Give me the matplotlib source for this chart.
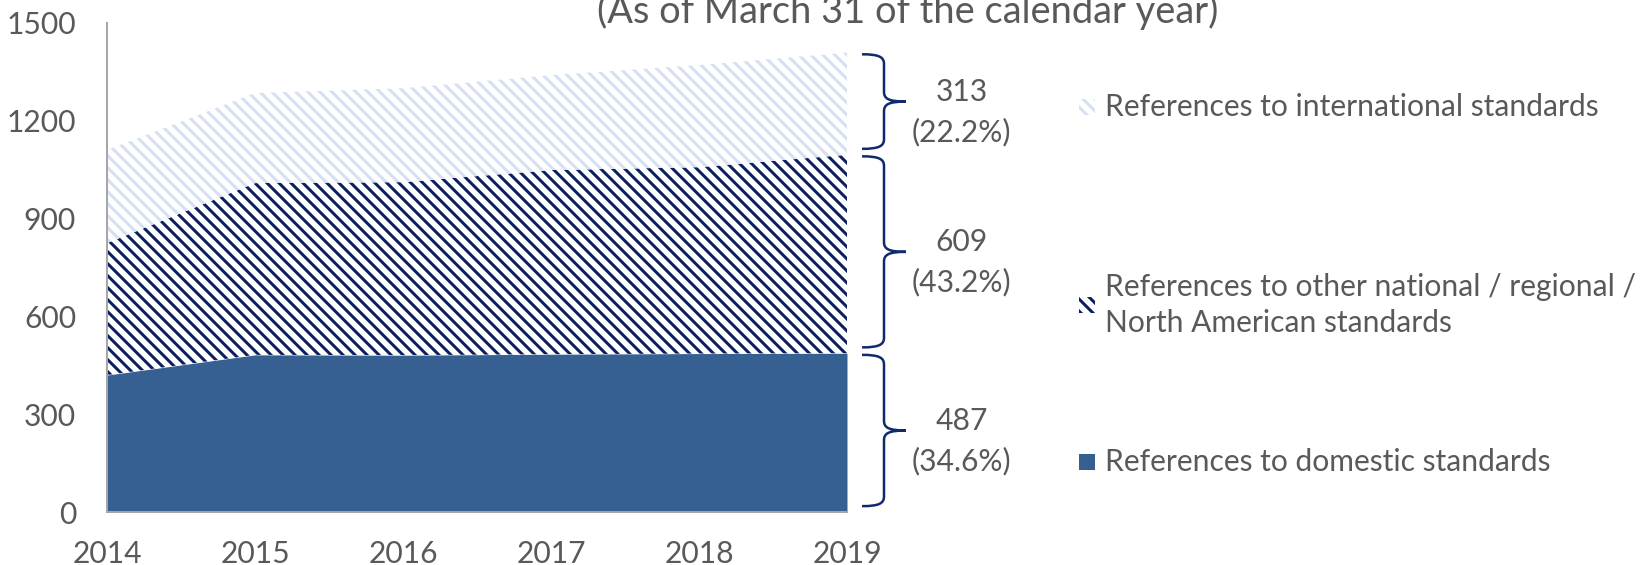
import numpy as np
import matplotlib
matplotlib.use("Agg")
import matplotlib.pyplot as plt
from matplotlib.path import Path
from matplotlib.patches import PathPatch, Rectangle
from matplotlib.transforms import blended_transform_factory

# data
years = [2014, 2015, 2016, 2017, 2018, 2019]
domestic = [420, 482, 481, 484, 486, 487]
other_natl = [405, 527, 531, 565, 572, 609]
international = [285, 276, 288, 291, 313, 313]

labels = ["References to domestic standards",
          "References to other national / regional /\nNorth American standards",
          "References to international standards"]
title = "(As of March 31 of the calendar year)"

# styles
c_dom = "#376092"
c_oth = "#0b1f5c"
c_int = "#d6e0f2"
c_brace = "#102a6c"
c_txt = "#595959"
fs = 30

plt.rcParams['font.family'] = ['Lato', 'DejaVu Sans']
plt.rcParams['hatch.linewidth'] = 3.0

DPI = 72
fig = plt.figure(figsize=(1642 / DPI, 565 / DPI), dpi=DPI)
ax = fig.add_axes([107 / 1642, 1 - 512 / 565, 740 / 1642, 489 / 565])

x = np.array(years)
d = np.array(domestic)
o = d + np.array(other_natl)
t = o + np.array(international)

ax.fill_between(x, 0, d, facecolor=c_dom, edgecolor=c_dom, linewidth=0)
ax.fill_between(x, d, o, facecolor="white", edgecolor=c_oth, hatch="\\\\", linewidth=0)
ax.fill_between(x, o, t, facecolor="white", edgecolor=c_int, hatch="\\\\", linewidth=0)

ax.set_xlim(2014, 2019)
ax.set_ylim(0, 1500)
ax.set_xticks(years)
ax.set_yticks(np.arange(0, 1501, 300))
ax.tick_params(axis='both', length=0, labelsize=fs, labelcolor=c_txt)
ax.tick_params(axis='y', pad=31)
ax.tick_params(axis='x', pad=28)
for s in ['top', 'right']:
    ax.spines[s].set_visible(False)
for s in ['left', 'bottom']:
    ax.spines[s].set_color("#a6a6a6")
    ax.spines[s].set_linewidth(2)

# braces with value / share labels at the last year
trans = blended_transform_factory(ax.transAxes, ax.transData)
xl, xv, xt = 1.0203, 1.050, 1.0797
r = 30


def brace(lo, hi):
    mid = (lo + hi) / 2
    verts = [(xl, hi), (xl + 0.8 * (xv - xl), hi), (xv, hi - 0.3 * r), (xv, hi - r),
             (xv, mid + r),
             (xv, mid + 0.3 * r), (xv + 0.2 * (xt - xv), mid), (xt, mid),
             (xv + 0.2 * (xt - xv), mid), (xv, mid - 0.3 * r), (xv, mid - r),
             (xv, lo + r),
             (xv, lo + 0.3 * r), (xl + 0.8 * (xv - xl), lo), (xl, lo)]
    codes = [Path.MOVETO, Path.CURVE4, Path.CURVE4, Path.CURVE4,
             Path.LINETO,
             Path.CURVE4, Path.CURVE4, Path.CURVE4,
             Path.CURVE4, Path.CURVE4, Path.CURVE4,
             Path.LINETO,
             Path.CURVE4, Path.CURVE4, Path.CURVE4]
    ax.add_patch(PathPatch(Path(verts, codes), transform=trans, fill=False,
                           edgecolor=c_brace, linewidth=2.5, clip_on=False))


total = t[-1]
bounds = [(0, d[-1]), (d[-1], o[-1]), (o[-1], t[-1])]
for lo, hi in bounds:
    brace(lo + 18, hi - 5)
    val = hi - lo
    ax.text(1.155, (lo + hi) / 2 - 25, "%d\n(%.1f%%)" % (val, 100.0 * val / total),
            transform=trans, ha='center', va='center', fontsize=fs,
            color=c_txt, linespacing=1.5, clip_on=False)

# legend, drawn by hand to keep the uneven row spacing
leg_rows = [(462, c_dom, c_dom, None), (305, "white", c_oth, "\\\\"), (107, "white", c_int, "\\\\")]
for (yc, fc, ec, h), lab in zip(leg_rows, labels):
    fig.add_artist(Rectangle((1079 / 1642, 1 - (yc + 8) / 565), 16 / 1642, 16 / 565,
                             facecolor=fc, edgecolor=ec, hatch=h, linewidth=0,
                             transform=fig.transFigure))
    fig.text(1105 / 1642, 1 - yc / 565, lab, ha='left', va='center', fontsize=fs,
             color=c_txt, linespacing=1.35)

fig.text(0.553, 1 - 23 / 565, title, ha='center', va='baseline', fontsize=38, color=c_txt)

fig.savefig("out.png", dpi=DPI)
